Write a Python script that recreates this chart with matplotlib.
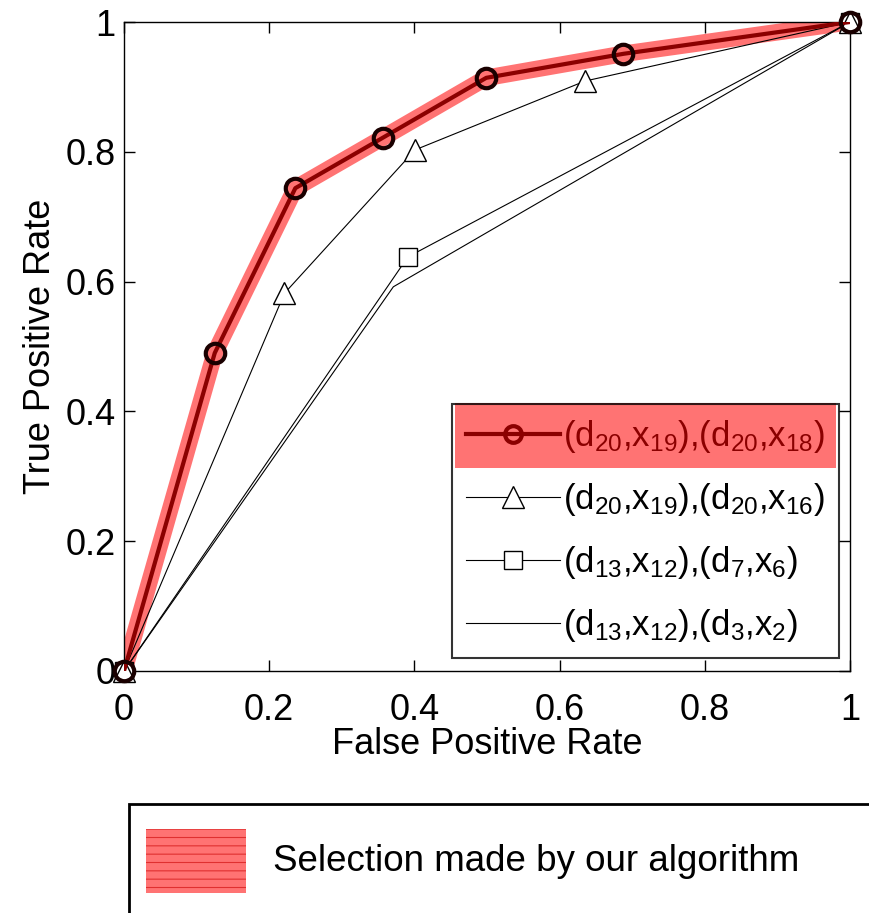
import matplotlib
matplotlib.use("Agg")
import matplotlib.pyplot as plt
from matplotlib.patches import Rectangle
from matplotlib.lines import Line2D

plt.rcParams['font.family'] = ['Liberation Sans', 'DejaVu Sans']
plt.rcParams['mathtext.default'] = 'regular'
plt.rcParams['hatch.linewidth'] = 0.8

# Data
fpr_sel = [0.0, 0.125, 0.236, 0.357, 0.499, 0.688, 1.0]
tpr_sel = [0.0, 0.49, 0.744, 0.822, 0.914, 0.951, 1.0]
fpr_tri = [0.0, 0.221, 0.401, 0.635, 1.0]
tpr_tri = [0.0, 0.582, 0.803, 0.909, 1.0]
fpr_sq = [0.0, 0.391, 1.0]
tpr_sq = [0.0, 0.638, 1.0]
fpr_plain = [0.0, 0.371, 1.0]
tpr_plain = [0.0, 0.592, 1.0]

labels = [r'(d$_{20}$,x$_{19}$),(d$_{20}$,x$_{18}$)',
          r'(d$_{20}$,x$_{19}$),(d$_{20}$,x$_{16}$)',
          r'(d$_{13}$,x$_{12}$),(d$_{7}$,x$_{6}$)',
          r'(d$_{13}$,x$_{12}$),(d$_{3}$,x$_{2}$)']
xticks = [0, 0.2, 0.4, 0.6, 0.8, 1]
xticklabels = ['0', '0.2', '0.4', '0.6', '0.8', '1']
yticks = [0, 0.2, 0.4, 0.6, 0.8, 1]
yticklabels = ['0', '0.2', '0.4', '0.6', '0.8', '1']
bottom_label = 'Selection made by our algorithm'

DARKRED = '#8B0000'
HILITE = '#FF7373'
W, H = 869, 913

fig = plt.figure(figsize=(W / 100, H / 100), dpi=100)
ax = fig.add_axes([124 / W, (H - 671) / H, 726 / W, 649 / H])

# highlight
ax.plot(fpr_sel, tpr_sel, color=HILITE, lw=12, solid_capstyle='butt', zorder=2)
ax.plot(fpr_plain, tpr_plain, color='black', lw=0.8, zorder=3)
ax.plot(fpr_sq, tpr_sq, color='black', lw=0.8, marker='s', ms=13, mfc='white',
        mec='black', mew=1.0, zorder=3, clip_on=False)
ax.plot(fpr_tri, tpr_tri, color='black', lw=0.8, marker='^', ms=16, mfc='white',
        mec='black', mew=1.0, zorder=3, clip_on=False)
ax.plot(fpr_sel, tpr_sel, color=DARKRED, lw=3, zorder=4)
ax.plot(fpr_sel, tpr_sel, ls='none', marker='o', ms=14, mfc='none', mec='#1a0000',
        mew=3, zorder=5, clip_on=False)

ax.set_xlim(0, 1)
ax.set_ylim(0, 1)
ax.set_xticks(xticks)
ax.set_xticklabels(xticklabels)
ax.set_yticks(yticks)
ax.set_yticklabels(yticklabels)
ax.tick_params(direction='in', length=8, width=1, top=True, right=True,
               labelsize=26)
ax.tick_params(axis='x', pad=16)
ax.tick_params(axis='y', pad=6)
for s in ax.spines.values():
    s.set_linewidth(1.0)
ax.set_xlabel('False Positive Rate', fontsize=26, labelpad=-1)
ax.set_ylabel('True Positive Rate', fontsize=26, labelpad=5)

handles = [
    Line2D([], [], color=DARKRED, lw=3, marker='o', ms=12, mfc='none', mec=DARKRED, mew=3),
    Line2D([], [], color='black', lw=0.8, marker='^', ms=16, mfc='white', mec='black', mew=1),
    Line2D([], [], color='black', lw=0.8, marker='s', ms=13, mfc='white', mec='black', mew=1),
    Line2D([], [], color='black', lw=0.8),
]
leg = ax.legend(handles, labels, loc='lower right', bbox_to_anchor=(0.985, 0.02),
                fontsize=25, frameon=True, fancybox=False, handlelength=2.7,
                handletextpad=0.1, labelspacing=0.75, borderpad=0.4,
                borderaxespad=0)
leg.get_frame().set_facecolor('none')
leg.get_frame().set_edgecolor('black')
leg.get_frame().set_linewidth(1.5)
leg.set_zorder(10)
leg.get_texts()[0].set_color(DARKRED)

fig.canvas.draw()
r = fig.canvas.get_renderer()
fb = leg.get_frame().get_window_extent(r)
t0 = leg.get_texts()[0].get_window_extent(r)
t1 = leg.get_texts()[1].get_window_extent(r)
inv = ax.transAxes.inverted()
(fx0, fy0), (fx1, fy1) = inv.transform([[fb.x0, fb.y0], [fb.x1, fb.y1]])
ax.add_patch(Rectangle((fx0, fy0), fx1 - fx0, fy1 - fy0, transform=ax.transAxes,
                       facecolor='white', edgecolor='none', zorder=8))
cy = (t0.y0 + t0.y1) / 2
sp = ((t0.y0 + t0.y1) - (t1.y0 + t1.y1)) / 2
(rx0, ry0), (rx1, ry1) = inv.transform([[fb.x0 + 3, cy - sp / 2], [fb.x1 - 3, cy + sp / 2 + 2]])
ax.add_patch(Rectangle((rx0, ry0), rx1 - rx0, ry1 - ry0, transform=ax.transAxes,
                       facecolor=HILITE, edgecolor='none', zorder=9))

# bottom legend box (extends past figure edge like the original)
fig.patches.append(Rectangle((129 / W, -0.1), 0.95, (H - 804) / H + 0.1,
                             transform=fig.transFigure, figure=fig,
                             facecolor='white', edgecolor='black', lw=2))
fig.patches.append(Rectangle((146 / W, (H - 893) / H), 100 / W, 64 / H,
                             transform=fig.transFigure, figure=fig,
                             facecolor=HILITE, edgecolor='#E03030', hatch='--', lw=0))
fig.text(273 / W, (H - 861) / H, bottom_label, fontsize=26.5, va='center', ha='left')

fig.savefig('out.png', dpi=100)
